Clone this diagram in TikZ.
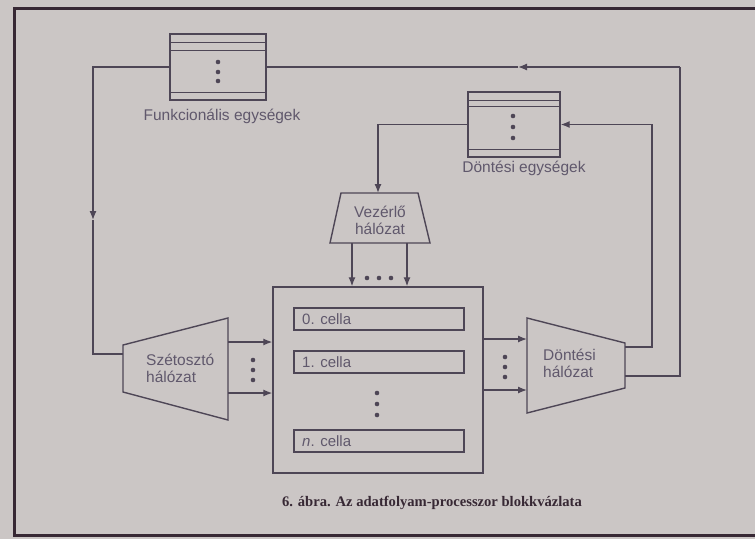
\documentclass[tikz,border=0pt]{standalone}
\usepackage{fontspec}
\setmainfont{Liberation Serif}
\setsansfont{Liberation Sans}
\usetikzlibrary{arrows.meta,calc}
\definecolor{paper}{RGB}{203,198,197}
\definecolor{ink}{RGB}{78,70,86}
\definecolor{labelink}{RGB}{96,88,108}
\definecolor{framecol}{RGB}{55,40,52}
\begin{document}
\begin{tikzpicture}[x=1pt,y=-1pt,
  wire/.style={draw=ink,line width=1.3pt},
  arr/.style={-{Latex[length=9pt,width=7pt]}},
  blk/.style={draw=ink,line width=1.4pt,inner sep=0pt},
  lbl/.style={font=\sffamily\fontsize{15.5}{17}\selectfont,text=labelink,inner sep=0pt},
  celllbl/.style={font=\sffamily\fontsize{15}{17}\selectfont,text=labelink,inner sep=0pt,anchor=west},
  dot/.style={circle,fill=ink,inner sep=0pt,minimum size=4.6pt}]
% page and frame
\fill[paper] (0,0) rectangle (755,539);
\useasboundingbox (0,0) rectangle (755,539);
\draw[framecol,line width=3pt] (755,8) -- (14,8) -- (14,535) -- (755,535);

% functional units
\node[blk,minimum width=96,minimum height=66] (fu) at (218,67) {};
\draw[ink,line width=1.1pt] ($(fu.north west)+(0,9)$) -- ($(fu.north east)+(0,9)$);
\draw[ink,line width=1.1pt] ($(fu.north west)+(0,17)$) -- ($(fu.north east)+(0,17)$);
\draw[ink,line width=1.1pt] ($(fu.south west)+(0,-8)$) -- ($(fu.south east)+(0,-8)$);
\node[dot] (fud1) at (218,62) {};
\node[dot] (fud2) at (218,72) {};
\node[dot] (fud3) at (218,81) {};
\node[lbl] (fulbl) at (222,116) {Funkcionális egységek};

% decision units
\node[blk,minimum width=92,minimum height=65] (de) at (514,124.5) {};
\draw[ink,line width=1.1pt] ($(de.north west)+(0,9)$) -- ($(de.north east)+(0,9)$);
\draw[ink,line width=1.1pt] ($(de.north west)+(0,15)$) -- ($(de.north east)+(0,15)$);
\draw[ink,line width=1.1pt] ($(de.south west)+(0,-8)$) -- ($(de.south east)+(0,-8)$);
\node[dot] (ded1) at (513,116) {};
\node[dot] (ded2) at (513,127) {};
\node[dot] (ded3) at (513,138) {};
\node[lbl] (delbl) at (524,168) {Döntési egységek};

% control network
\draw[blk] (341,193) coordinate (vz-top-l) -- (418,193) coordinate (vz-top-r)
  -- (430,243) -- (330,243) -- cycle;
\coordinate (vz-in) at (378,193);
\coordinate (vz-out1) at (352,243);
\coordinate (vz-out2) at (407,243);
\node[lbl,align=center] (vzlbl) at (380,220) {Vezérlő\\hálózat};

% cell array
\node[blk,minimum width=210,minimum height=186] (cells) at (378,380) {};
\node[blk,minimum width=170,minimum height=22] (c0) at (379,319) {};
\node[blk,minimum width=170,minimum height=22] (c1) at (379,362) {};
\node[blk,minimum width=170,minimum height=22] (cn) at (379,441) {};
\node[celllbl] (c0lbl) at (302,319) {0. cella};
\node[celllbl] (c1lbl) at (302,362) {1. cella};
\node[celllbl] (cnlbl) at (302,441) {\textit{n}. cella};
\node[dot] (cd1) at (377,393) {};
\node[dot] (cd2) at (377,404) {};
\node[dot] (cd3) at (377,415) {};

% distribution network
\draw[blk] (123,345) -- (228,318) -- (228,420) -- (123,392) -- cycle;
\coordinate (sz-in) at (123,354);
\coordinate (sz-out1) at (228,342);
\coordinate (sz-out2) at (228,393);
\node[lbl,align=left,anchor=west] (szlbl) at (146,368) {Szétosztó\\hálózat};

% decision network
\draw[blk] (527,318) -- (625,343) -- (625,388) -- (527,413) -- cycle;
\coordinate (dh-in1) at (527,339);
\coordinate (dh-in2) at (527,390);
\coordinate (dh-out1) at (625,347);
\coordinate (dh-out2) at (625,376);
\node[lbl,align=left,anchor=west] (dhlbl) at (543,363) {Döntési\\hálózat};

% loop: functional units -> distribution network
\coordinate (lmid) at (93,220);
\draw[wire,arr] (fu.west) -| (lmid);
\draw[wire] (lmid) |- (sz-in);

% loop: decision network -> functional units
\coordinate (tmid) at (518,67);
\coordinate (tcorner) at (680,67);
\draw[wire] (dh-out2) -| (tcorner);
\draw[wire,arr] (tcorner) -- (tmid);
\draw[wire] (tmid) -- (fu.east);

% decision network -> decision units
\coordinate (rcorner) at (652,124.5);
\draw[wire,arr] (dh-out1) -| (rcorner) -- (de.east);

% decision units -> control network
\draw[wire,arr] (de.west) -| (vz-in);

% control network -> cells
\draw[wire,arr] (vz-out1) -- (vz-out1 |- cells.north);
\draw[wire,arr] (vz-out2) -- (vz-out2 |- cells.north);
\node[dot] (vzd1) at (367,278) {};
\node[dot] (vzd2) at (379,278) {};
\node[dot] (vzd3) at (391,278) {};

% distribution network -> cells
\draw[wire,arr] (sz-out1) -- (sz-out1 -| cells.west);
\draw[wire,arr] (sz-out2) -- (sz-out2 -| cells.west);
\node[dot] (szd1) at (253,360) {};
\node[dot] (szd2) at (253,370) {};
\node[dot] (szd3) at (253,380) {};

% cells -> decision network
\draw[wire,arr] (dh-in1 -| cells.east) -- (dh-in1);
\draw[wire,arr] (dh-in2 -| cells.east) -- (dh-in2);
\node[dot] (dhd1) at (505,357) {};
\node[dot] (dhd2) at (505,367) {};
\node[dot] (dhd3) at (505,377) {};

% caption
\node[font=\bfseries\fontsize{14.6}{16}\selectfont,text=framecol,inner sep=0pt] (cap) at (432,503)
  {6. ábra. Az adatfolyam-processzor blokkvázlata};
\end{tikzpicture}
\end{document}
